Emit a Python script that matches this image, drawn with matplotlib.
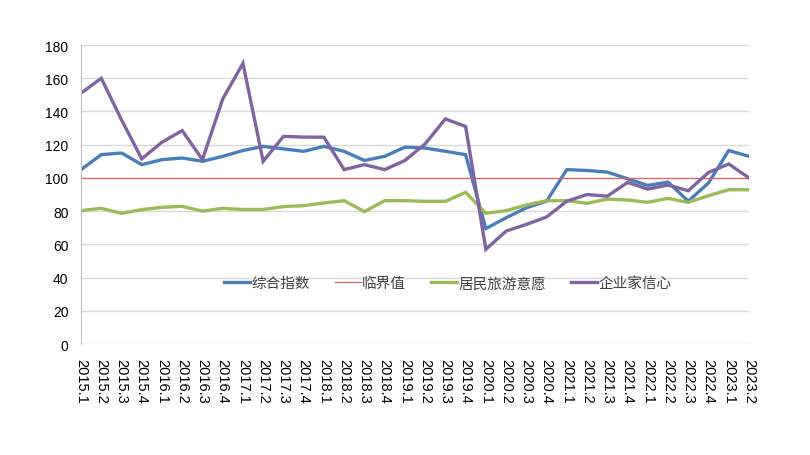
import matplotlib.pyplot as plt
import numpy as np

plt.rcParams['font.family'] = ['Liberation Sans', 'Noto Sans CJK SC', 'DejaVu Sans']

# quarters 2015.1 .. 2023.2
quarters = []
for year in range(2015, 2024):
    for q in range(1, 5):
        quarters.append("%d.%d" % (year, q))
quarters = quarters[:34]

composite = [105, 114, 115, 108, 111, 112, 110, 113, 116.5, 119,
             117.5, 116, 119, 116, 110.5, 113, 118.5, 118, 116, 114,
             69.5, 76, 82, 86, 105, 104.5, 103.5, 99.5, 95.5, 97.5,
             86, 97, 116.5, 113]
threshold = [100] * 34
residents = [80.3, 81.7, 78.7, 80.9, 82.3, 82.9, 80, 81.7, 81, 81,
             82.7, 83.3, 84.9, 86.3, 79.7, 86.3, 86.3, 85.9, 85.9, 91.3,
             78.7, 80.3, 83.7, 86.3, 86.3, 84.7, 87.3, 86.7, 85.3, 87.7,
             85.3, 89.3, 92.9, 92.9]
confidence = [151, 160, 135, 111.5, 121.5, 128.5, 111, 147.5, 169, 110,
              125, 124.6, 124.5, 105, 108, 105, 110.5, 120.5, 135.5, 131,
              57, 68, 72, 76.5, 86, 90, 89, 97.3, 93.3, 95.7,
              92.3, 103.3, 108.4, 100]

names = ["综合指数", "临界值", "居民旅游意愿", "企业家信心"]
colors = ["#4A7EBB", "#E06666", "#9BBB59", "#8064A2"]
widths = [2.4, 0.9, 2.4, 2.4]

fig = plt.figure(figsize=(8.1, 4.56), dpi=100)
ax = fig.add_axes([0.1, 0.2434, 0.8247, 0.6556])

x = np.arange(len(quarters))
for vals, name, c, lw in zip([composite, threshold, residents, confidence], names, colors, widths):
    ax.plot(x, vals, color=c, lw=lw, label=name, solid_joinstyle='miter')

ax.set_xlim(0, len(quarters) - 1)
ax.set_ylim(0, 180)
ax.set_yticks(range(0, 181, 20))
ax.set_xticks(x)
ax.set_xticklabels(quarters, rotation=-90, fontsize=10.5)
ax.tick_params(axis='y', labelsize=10, length=0, pad=9)
ax.tick_params(axis='x', length=0, pad=10)
ax.grid(axis='y', color='#D9D9D9', lw=1)
ax.set_axisbelow(True)
for s in ['top', 'right', 'bottom']:
    ax.spines[s].set_visible(False)
ax.spines['left'].set_color('#BFBFBF')

leg = ax.legend(loc='center', bbox_to_anchor=(0.549, 0.203), ncol=4, frameon=False,
                handlelength=1.8, handletextpad=0.1, columnspacing=1.7,
                prop={'family': ['Noto Sans CJK SC', 'DejaVu Sans'], 'size': 10.5})
for t in leg.get_texts():
    t.set_color('#404040')

fig.savefig("out.png", dpi=100)
